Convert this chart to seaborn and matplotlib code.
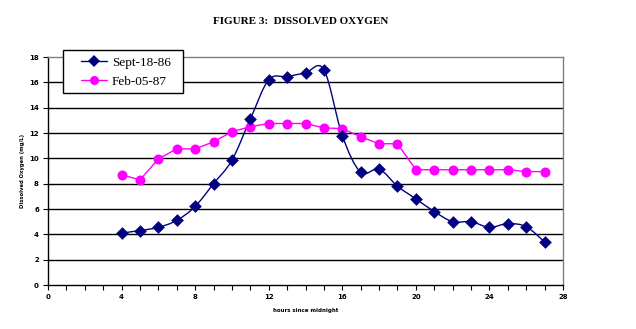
import numpy as np
import pandas as pd
import matplotlib
matplotlib.use("Agg")
import matplotlib.pyplot as plt
from matplotlib.path import Path
from matplotlib.patches import PathPatch, Rectangle
from matplotlib.lines import Line2D
from matplotlib.ticker import MultipleLocator
import seaborn as sns

# Dissolved oxygen readings (mg/L) by hour since midnight
hours = [4, 5, 6, 7, 8, 9, 10, 11, 12, 13, 14, 15, 16, 17, 18, 19, 20,
         21, 22, 23, 24, 25, 26, 27]
sept_18_86 = [4.1, 4.3, 4.55, 5.1, 6.2, 8.0, 9.85, 13.1, 16.2, 16.45, 16.75,
              17.0, 11.8, 8.9, 9.15, 7.8, 6.8, 5.8, 5.0, 5.0, 4.55, 4.85,
              4.6, 3.4]
feb_05_87 = [8.7, 8.3, 9.95, 10.75, 10.75, 11.3, 12.1, 12.5, 12.75, 12.75,
             12.75, 12.4, 12.35, 11.7, 11.15, 11.15, 9.1, 9.1, 9.1, 9.1,
             9.1, 9.1, 8.95, 8.95]
series_names = ["Sept-18-86", "Feb-05-87"]

title = "FIGURE 3:  DISSOLVED OXYGEN"
x_label = "hours since midnight"
y_label = "Dissolved Oxygen (mg/L)"

navy = "#000080"
magenta = "#FF00FF"

sns.set_style("white")
plt.rcParams.update({
    "text.color": "black",
    "axes.labelcolor": "black",
    "xtick.color": "black",
    "ytick.color": "black",
})

W, H = 636, 329
fig = plt.figure(figsize=(W / 100, H / 100), dpi=100)
ax = fig.add_axes([48 / W, 1 - 285 / H, (563 - 48) / W, (285 - 57) / H])

df = pd.DataFrame({"hour": hours, "Sept-18-86": sept_18_86,
                   "Feb-05-87": feb_05_87})

# Horizontal gridlines
for yv in range(2, 18, 2):
    ax.axhline(yv, color="black", lw=1.0, zorder=1)


def smooth_path(xs, ys):
    """Cubic Bezier path through the points (Catmull-Rom style smoothing)."""
    pts = np.column_stack([xs, ys]).astype(float)
    n = len(pts)
    verts = [pts[0]]
    codes = [Path.MOVETO]
    for i in range(n - 1):
        p0 = pts[i - 1] if i > 0 else pts[i]
        p1 = pts[i]
        p2 = pts[i + 1]
        p3 = pts[i + 2] if i + 2 < n else pts[i + 1]
        c1 = p1 + (p2 - p0) / 6.0
        c2 = p2 - (p3 - p1) / 6.0
        verts += [c1, c2, p2]
        codes += [Path.CURVE4] * 3
    return Path(verts, codes)


# Sept series: smoothed line with diamond markers
ax.add_patch(PathPatch(smooth_path(df["hour"], df["Sept-18-86"]),
                       facecolor="none", edgecolor=navy, lw=1.0, zorder=3))
sns.scatterplot(data=df, x="hour", y="Sept-18-86", ax=ax, marker="D",
                color=navy, s=42, linewidth=0, zorder=4, legend=False)

# Feb series: straight segments with circle markers
sns.lineplot(data=df, x="hour", y="Feb-05-87", ax=ax, color=magenta,
             lw=1.0, marker="o", markersize=7.2, markeredgewidth=0,
             zorder=3, legend=False)

ax.set_xlim(0, 28)
ax.set_ylim(0, 18)
ax.xaxis.set_major_locator(MultipleLocator(4))
ax.xaxis.set_minor_locator(MultipleLocator(1))
ax.yaxis.set_major_locator(MultipleLocator(2))

ax.tick_params(axis="both", which="both", direction="out", bottom=True,
               left=True, colors="black", width=0.8, length=3.5)
ax.tick_params(axis="x", which="major", pad=3)
ax.tick_params(axis="y", which="major", pad=3)
for lbl in ax.get_xticklabels() + ax.get_yticklabels():
    lbl.set_fontsize(5)
    lbl.set_fontweight("bold")

for side in ["left", "bottom"]:
    ax.spines[side].set_color("black")
    ax.spines[side].set_linewidth(1.0)
for side in ["top", "right"]:
    ax.spines[side].set_visible(True)
    ax.spines[side].set_color("#808080")
    ax.spines[side].set_linewidth(1.0)

ax.set_xlabel(x_label, fontsize=4, fontweight="bold", labelpad=6)
ax.set_ylabel(y_label, fontsize=3.8, fontweight="bold", labelpad=3)

fig.text(301 / W, 1 - 21 / H, title, ha="center", va="center",
         fontsize=8, fontweight="bold", family="Liberation Serif")

# Legend box and entries
fig.patches.append(Rectangle((63 / W, 1 - 93 / H), 120 / W, 43 / H,
                             transform=fig.transFigure, facecolor="white",
                             edgecolor="black", lw=1.0, zorder=5))
handles = [
    Line2D([], [], color=navy, lw=1.0, marker="D", markersize=6,
           markeredgewidth=0),
    Line2D([], [], color=magenta, lw=1.0, marker="o", markersize=6.5,
           markeredgewidth=0),
]
leg = fig.legend(handles, series_names, loc="center left",
                 bbox_to_anchor=(81 / W, 1 - 72 / H),
                 frameon=False, handlelength=2.0, handletextpad=0.35,
                 borderpad=0, labelspacing=0.5, borderaxespad=0,
                 prop={"family": "Liberation Serif", "size": 9.5})
leg.set_zorder(6)

fig.savefig("out.png", dpi=100)
